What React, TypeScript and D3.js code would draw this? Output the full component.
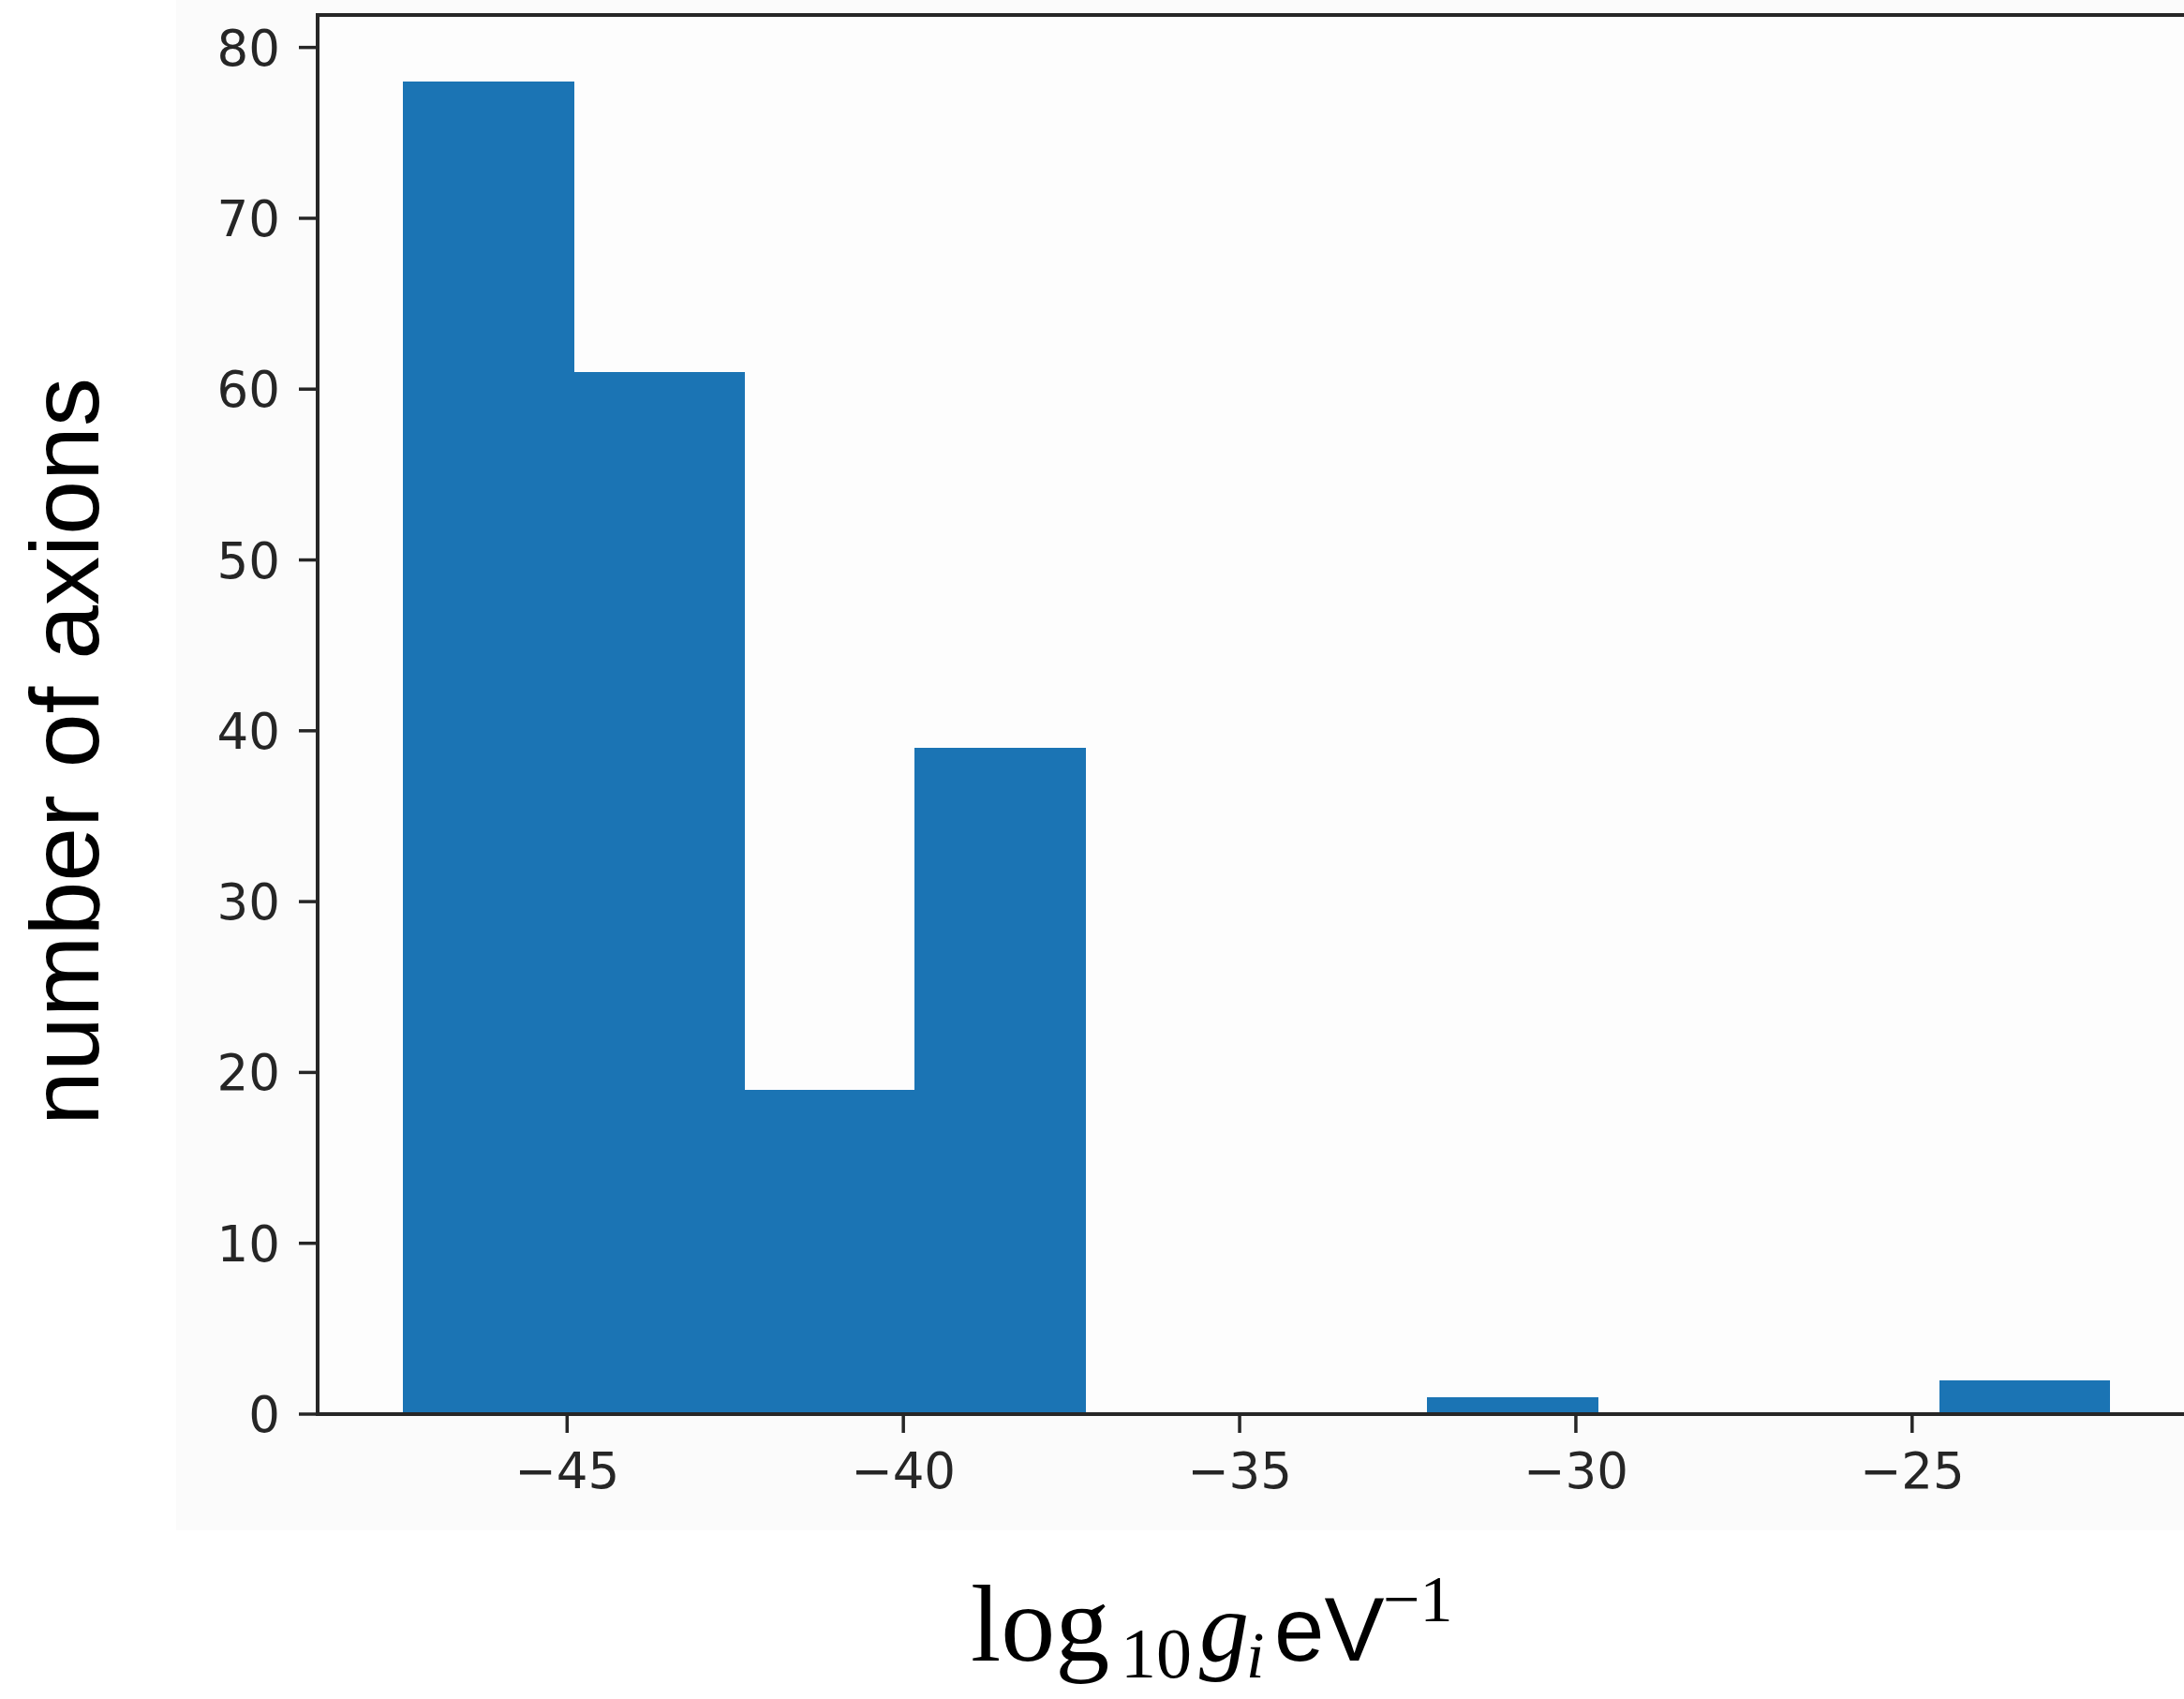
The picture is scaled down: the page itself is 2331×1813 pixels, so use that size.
import React from "react";
import * as d3 from "d3";

const binEdges = [-47.44, -44.9, -42.36, -39.83, -37.29, -34.75, -32.21, -29.67, -27.14, -24.6, -22.06];
const counts = [78, 61, 19, 39, 0, 0, 1, 0, 0, 2];
const xTicks = [-45, -40, -35, -30, -25];
const yTicks = [0, 10, 20, 30, 40, 50, 60, 70, 80];
const xDomain = [-48.71, -20.79];
const yDomain = [0, 81.9];

const W = 2331;
const H = 1813;
const left = 339;
const right = 2343;
const top = 16;
const bottom = 1509;

export default function App() {
  const x = d3.scaleLinear().domain(xDomain).range([left, right]);
  const y = d3.scaleLinear().domain(yDomain).range([bottom, top]);
  const bars = counts.map((c, i) => ({ x0: binEdges[i], x1: binEdges[i + 1], c }));
  const tickColor = "#262626";
  const fmt = (v: number) => (v < 0 ? "\u2212" + Math.abs(v) : String(v));
  return (
    <svg width={W} height={H} style={{ position: "absolute", left: 0, top: 0 }}>
      <rect x={0} y={0} width={W} height={H} fill="#ffffff" />
      <rect x={188} y={0} width={W - 188} height={1633} fill="#fbfbfb" />
      <rect x={left} y={top} width={right - left} height={bottom - top} fill="#fdfdfd" />
      {bars.filter((b) => b.c > 0).map((b, i) => (
        <rect
          key={i}
          x={x(b.x0)}
          y={y(b.c)}
          width={x(b.x1) - x(b.x0) + 0.6}
          height={y(0) - y(b.c)}
          fill="#1b74b4"
          shapeRendering="crispEdges"
        />
      ))}
      {/* spines */}
      <line x1={left} x2={left} y1={top - 2} y2={bottom + 2} stroke={tickColor} strokeWidth={4} />
      <line x1={left - 2} x2={right} y1={bottom} y2={bottom} stroke={tickColor} strokeWidth={4} />
      <line x1={left - 2} x2={right} y1={top} y2={top} stroke={tickColor} strokeWidth={4} />
      <line x1={right} x2={right} y1={top} y2={bottom} stroke={tickColor} strokeWidth={4} />
      {yTicks.map((t) => (
        <g key={"y" + t}>
          <line x1={left - 20} x2={left} y1={y(t)} y2={y(t)} stroke={tickColor} strokeWidth={3.5} />
          <text x={left - 40} y={y(t)} dy="0.36em" textAnchor="end" fontFamily="DejaVu Sans" fontSize={53} fill={tickColor}>
            {fmt(t)}
          </text>
        </g>
      ))}
      {xTicks.map((t) => (
        <g key={"x" + t}>
          <line x1={x(t)} x2={x(t)} y1={bottom} y2={bottom + 20} stroke={tickColor} strokeWidth={3.5} />
          <text x={x(t)} y={bottom + 79} textAnchor="middle" fontFamily="DejaVu Sans" fontSize={53} fill={tickColor}>
            {fmt(t)}
          </text>
        </g>
      ))}
      <text
        transform="translate(105,802) rotate(-90)"
        textAnchor="middle"
        fontFamily="Liberation Sans"
        fontSize={104}
        fill="#000"
      >
        number of axions
      </text>
      <g fill="#000">
        <text x={1036} y={1772} fontFamily="Liberation Serif" fontSize={116}>log</text>
        <text x={1196} y={1790} fontFamily="Liberation Serif" fontSize={76}>10</text>
        <text x={1280} y={1772} fontFamily="Liberation Serif" fontStyle="italic" fontSize={106}>g</text>
        <text x={1330} y={1790} fontFamily="Liberation Serif" fontStyle="italic" fontSize={70}>i</text>
        <text x={1360} y={1772} fontFamily="Liberation Sans" fontSize={96}>eV</text>
        <text x={1476} y={1730} fontFamily="Liberation Serif" fontSize={70}>{"\u22121"}</text>
      </g>
    </svg>
  );
}
